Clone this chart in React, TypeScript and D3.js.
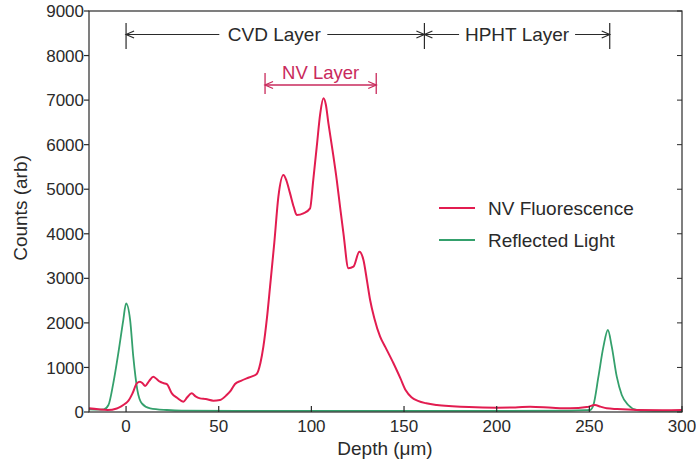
import React from "react";
import * as d3 from "d3";

const nvDepth = [-20, -15, -10, -5, -3, 0, 1.3, 3.5, 5.8, 7.5, 9, 10.3, 12.5, 14.7, 16.5, 18.3, 20, 22, 24.7, 27.5, 30.9, 33, 35.4, 37.5, 39.9, 43, 47.1, 50.7, 54.3, 56.5, 58.8, 62, 65.1, 68, 70.5, 72.5, 74.1, 76, 77.7, 80, 82.2, 84.9, 86.5, 88.5, 90.5, 92.1, 95.7, 99.3, 101, 102.9, 104.8, 106.5, 107.8, 109.2, 111.5, 113.7, 115.5, 117.3, 120, 122.7, 125.9, 128.1, 130, 131.7, 134, 137.1, 140, 144.3, 148, 151, 154, 157.5, 162, 167.7, 176, 185, 200, 210, 218, 230, 239.6, 248.6, 253, 256, 259.4, 265, 275.6, 290, 300];
const nvCounts = [83, 60, 45, 80, 120, 200, 254, 420, 643, 680, 640, 583, 700, 793, 740, 680, 650, 628, 419, 320, 232, 330, 419, 350, 306, 290, 254, 269, 381, 480, 628, 700, 755, 800, 853, 1100, 1466, 2100, 2813, 3800, 4832, 5319, 5200, 4907, 4600, 4421, 4458, 4570, 5200, 5955, 6700, 7040, 6900, 6479, 5850, 5206, 4600, 4010, 3225, 3261, 3598, 3411, 2950, 2513, 2100, 1690, 1450, 1093, 760, 480, 330, 250, 195, 157, 130, 110, 97, 100, 120, 95, 83, 110, 157, 120, 83, 65, 45, 40, 45];

const rlDepth = [-20, -15, -12, -9.5, -6.9, -4.2, -1.5, 0, 2.2, 3.9, 6.1, 8.5, 13, 22, 30, 60, 100, 150, 200, 240, 248, 250.4, 252.2, 254.9, 257.6, 260, 262.1, 264.8, 267.5, 271, 275.6, 280, 290, 300];
const rlCounts = [60, 55, 60, 157, 643, 1316, 2064, 2438, 2064, 1241, 493, 195, 83, 45, 30, 25, 25, 25, 25, 30, 40, 45, 157, 793, 1466, 1840, 1466, 793, 381, 157, 45, 30, 25, 25];

const xTicks = [0, 50, 100, 150, 200, 250, 300];
const yTicks = [0, 1000, 2000, 3000, 4000, 5000, 6000, 7000, 8000, 9000];

const seriesNames = ["NV Fluorescence", "Reflected Light"];
const cvdRange = [0, 161];
const hphtRange = [161, 261];
const nvRange = [75, 135];

const RED = "#e21c50";
const GREEN = "#34a06c";
const NVCOL = "#c92a5c";
const INK = "#2a2a2a";
const FONT = "'Liberation Sans', Arial, Helvetica, sans-serif";

export default function App() {
  const W = 696, H = 464;
  const left = 89, right = 682, top = 11, bottom = 412;
  const x = d3.scaleLinear().domain([-20, 300]).range([left, right]);
  const y = d3.scaleLinear().domain([0, 9000]).range([bottom, top]);

  const line = d3
    .line<[number, number]>()
    .x((d) => x(d[0]))
    .y((d) => y(d[1]))
    .curve(d3.curveMonotoneX);

  const nvPts = nvDepth.map((d, i) => [d, nvCounts[i]] as [number, number]);
  const rlPts = rlDepth.map((d, i) => [d, rlCounts[i]] as [number, number]);

  const arrowHead = (xp: number, yp: number, dir: number, size = 8) =>
    `M${xp + dir * size},${yp - 3.5}L${xp},${yp}L${xp + dir * size},${yp + 3.5}`;

  const yA = 34.5;
  const cvdText = x(80);
  const hphtText = x(211);
  const yNV = 85;

  return (
    <svg
      width={W}
      height={H}
      style={{ position: "absolute", left: 0, top: 0, background: "#fff" }}
      fontFamily={FONT}
    >
      <rect x={0} y={0} width={W} height={H} fill="#fff" />

      {/* curves */}
      <path d={line(rlPts) || ""} fill="none" stroke={GREEN} strokeWidth={1.8} strokeLinejoin="round" />
      <path d={line(nvPts) || ""} fill="none" stroke={RED} strokeWidth={2} strokeLinejoin="round" />

      {/* frame */}
      <rect x={left} y={top} width={right - left} height={bottom - top} fill="none" stroke={INK} strokeWidth={1.2} />

      {/* y ticks */}
      {yTicks.map((t) => (
        <g key={"y" + t}>
          <line x1={left - 5} x2={left} y1={y(t)} y2={y(t)} stroke={INK} strokeWidth={1.2} />
          <line x1={right - 5} x2={right} y1={y(t)} y2={y(t)} stroke={INK} strokeWidth={1} />
          <text x={left - 5} y={y(t)} dy="0.36em" textAnchor="end" fontSize={17} fill={INK}>
            {t}
          </text>
        </g>
      ))}

      {/* x ticks */}
      {xTicks.map((t) => (
        <g key={"x" + t}>
          <line x1={x(t)} x2={x(t)} y1={bottom} y2={bottom - 6} stroke={INK} strokeWidth={1.2} />
          <text x={x(t)} y={bottom + 20} textAnchor="middle" fontSize={17} fill={INK}>
            {t}
          </text>
        </g>
      ))}

      {/* axis labels */}
      <text x={385} y={455} textAnchor="middle" fontSize={19} fill={INK}>
        Depth (μm)
      </text>
      <text
        transform={`translate(27,${208}) rotate(-90)`}
        textAnchor="middle"
        fontSize={19}
        fill={INK}
      >
        Counts (arb)
      </text>

      {/* CVD / HPHT annotations */}
      <g stroke={INK} strokeWidth={1.2} fill="none">
        <line x1={x(cvdRange[0])} x2={x(cvdRange[0])} y1={23} y2={49} />
        <line x1={x(cvdRange[1])} x2={x(cvdRange[1])} y1={23} y2={49} />
        <line x1={x(hphtRange[1])} x2={x(hphtRange[1])} y1={23} y2={49} />
        <line x1={x(cvdRange[0])} x2={cvdText - 55} y1={yA} y2={yA} />
        <line x1={cvdText + 53} x2={x(cvdRange[1])} y1={yA} y2={yA} />
        <line x1={x(hphtRange[0])} x2={hphtText - 58} y1={yA} y2={yA} />
        <line x1={hphtText + 58} x2={x(hphtRange[1])} y1={yA} y2={yA} />
        <path d={arrowHead(x(cvdRange[0]), yA, 1)} />
        <path d={arrowHead(x(cvdRange[1]), yA, -1)} />
        <path d={arrowHead(x(hphtRange[0]), yA, 1)} />
        <path d={arrowHead(x(hphtRange[1]), yA, -1)} />
      </g>
      <text x={cvdText} y={yA} dy="0.36em" textAnchor="middle" fontSize={19} fill={INK}>
        CVD Layer
      </text>
      <text x={hphtText} y={yA} dy="0.36em" textAnchor="middle" fontSize={19} fill={INK}>
        HPHT Layer
      </text>

      {/* NV layer annotation */}
      <g stroke={NVCOL} strokeWidth={1.3} fill="none">
        <line x1={x(nvRange[0])} x2={x(nvRange[0])} y1={73} y2={94} />
        <line x1={x(nvRange[1])} x2={x(nvRange[1])} y1={73} y2={94} />
        <line x1={x(nvRange[0])} x2={x(nvRange[1])} y1={yNV} y2={yNV} />
        <path d={arrowHead(x(nvRange[0]), yNV, 1)} />
        <path d={arrowHead(x(nvRange[1]), yNV, -1)} />
      </g>
      <text x={(x(nvRange[0]) + x(nvRange[1])) / 2} y={79} textAnchor="middle" fontSize={18.5} fill={NVCOL}>
        NV Layer
      </text>

      {/* legend */}
      {seriesNames.map((n, i) => (
        <g key={n} transform={`translate(439,${208 + i * 32})`}>
          <line x1={0} x2={36} y1={0} y2={0} stroke={i === 0 ? RED : GREEN} strokeWidth={i === 0 ? 2 : 1.8} />
          <text x={49} y={0} dy="0.36em" fontSize={19} fill={INK}>
            {n}
          </text>
        </g>
      ))}
    </svg>
  );
}
